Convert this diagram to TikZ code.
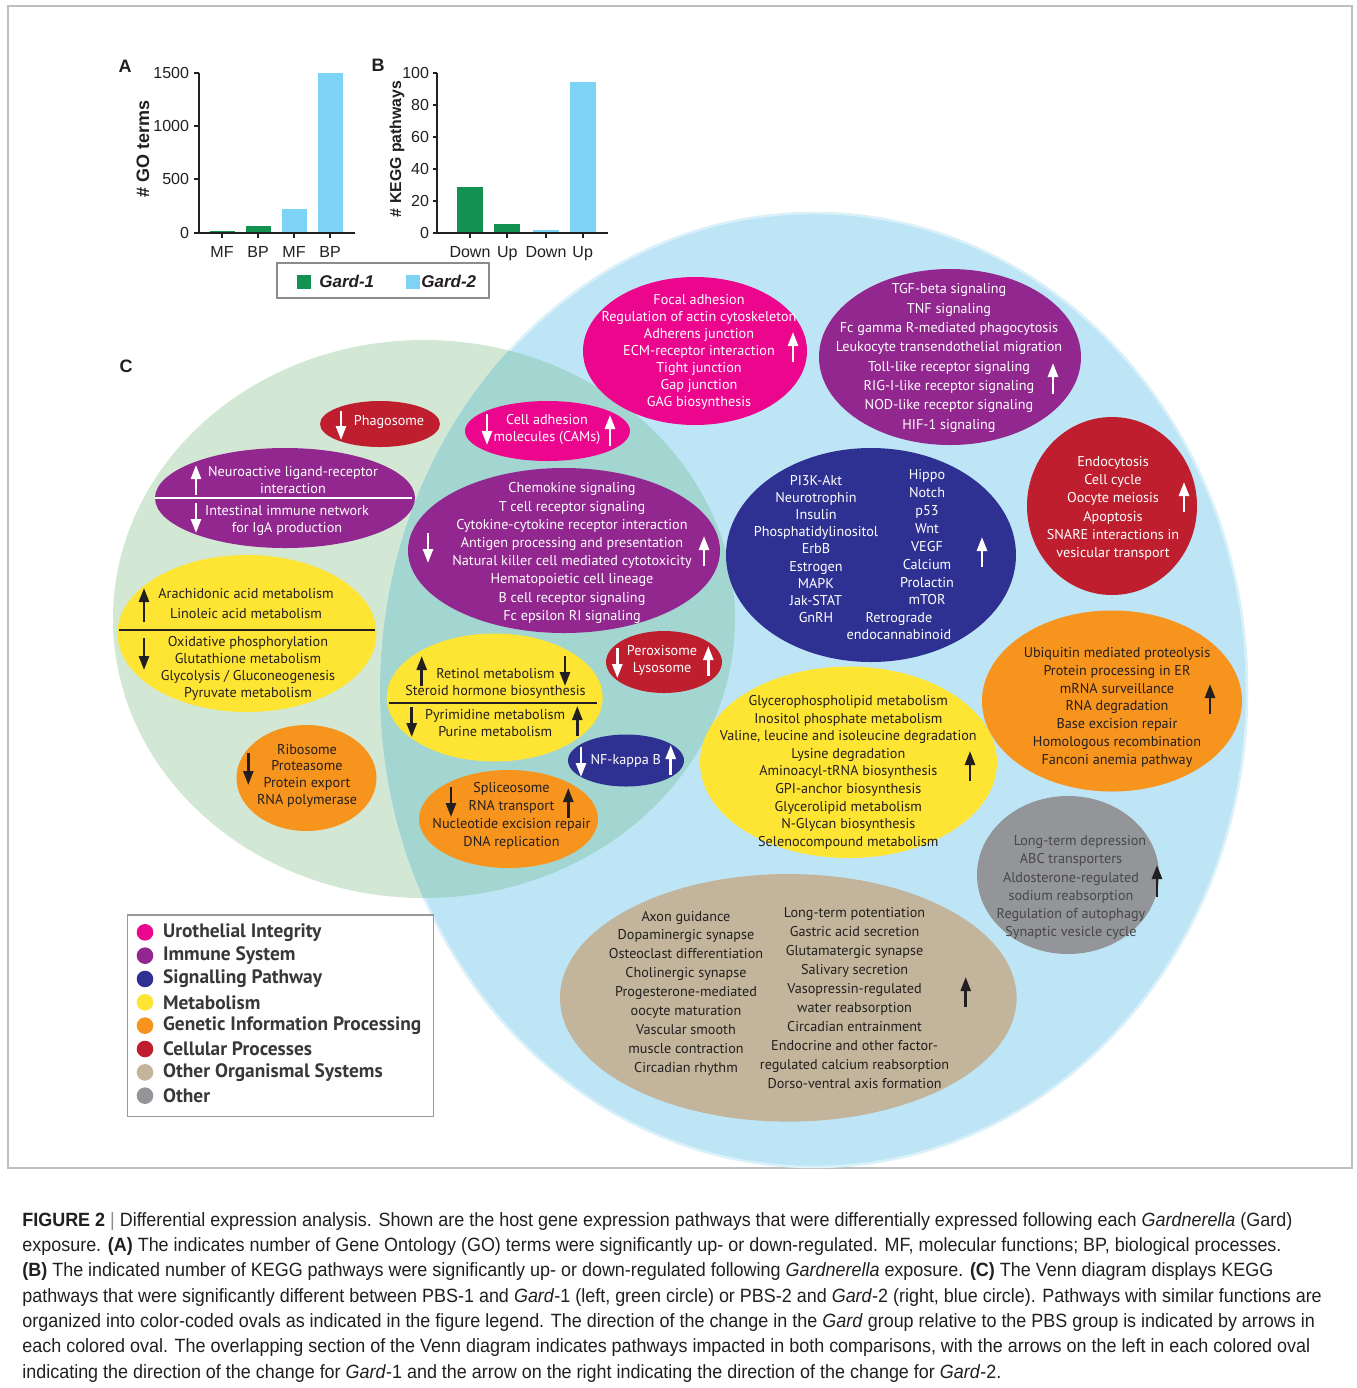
\documentclass[tikz,border=0pt]{standalone}
\usepackage{fontspec}
\usetikzlibrary{arrows.meta}
\newfontfamily\ovfont{PT Sans}
\newfontfamily\chfont{Liberation Sans}
\newfontfamily\capfont[FakeStretch=0.935]{Liberation Sans}
\definecolor{gone}{HTML}{139150}
\definecolor{gtwo}{HTML}{7CD3F5}
\definecolor{grn}{HTML}{D2E7D4}
\definecolor{blu}{HTML}{BEE5F6}
\definecolor{ovl}{HTML}{A3D6D1}
\definecolor{pnk}{HTML}{EC068D}
\definecolor{prp}{HTML}{92278F}
\definecolor{nvy}{HTML}{2E3192}
\definecolor{ylw}{HTML}{FFE533}
\definecolor{org}{HTML}{F7941D}
\definecolor{rdd}{HTML}{BE1E2D}
\definecolor{tan}{HTML}{C2B59B}
\definecolor{gry}{HTML}{939598}
\definecolor{ink}{HTML}{231F20}
\newcommand{\ovs}[1]{\ovfont\fontsize{7.1}{#1}\selectfont}
\tikzset{
  wtxt/.style={font=\ovs{8.5},align=center,inner sep=0pt,text=white},
  btxt/.style={font=\ovs{8.5},align=center,inner sep=0pt,text=ink},
  arw/.style={line width=1.3pt,-{Triangle[width=5pt,length=7pt]}},
  axl/.style={ink,line width=1pt},
  tkl/.style={font=\chfont\fontsize{8}{9}\selectfont,text=ink,inner sep=2pt,text height=1.5ex,text depth=0.25ex},
  ytl/.style={font=\chfont\bfseries\fontsize{9}{10}\selectfont,text=ink,rotate=90},
  panel/.style={font=\chfont\bfseries\fontsize{9}{10}\selectfont,text=ink},
  legab/.style={font=\chfont\bfseries\itshape\fontsize{8.5}{10}\selectfont,text=ink,anchor=west,inner sep=0pt},
  legtxt/.style={font=\ovfont\bfseries\fontsize{9.7}{11}\selectfont,text=black!78,anchor=west,inner sep=0pt},
  capt/.style={font=\capfont\fontsize{9.6}{12.65}\selectfont,align=left,inner sep=0pt,text=ink},
}

\begin{document}
\begin{tikzpicture}[x=0.5pt,y=-0.5pt]  % 1 unit = 1 px of the figure
  \useasboundingbox (0,0) rectangle (1356,1388);
  \fill[white] (0,0) rectangle (1356,1388);
  \draw[black!25,line width=0.6pt] (8,6) rectangle (1352,1168);

  % ---- (A) GO terms
  \node[panel] (pa) at (125,66) {A};
  \foreach \x/\v/\c/\t [count=\i] in {222/15/gone/MF,258/63/gone/BP,294/220/gtwo/MF,330/1495/gtwo/BP}{
    \fill[\c] (\x-12.5,232.7) rectangle (\x+12.5,{232.7-0.10667*\v});
    \draw[axl] (\x,232.7) -- ++(0,5);
    \node[tkl] (xa\i) at (\x,251.7) {\t};
  }
  \draw[axl] (199,72.7) -- (199,232.7) -- (355,232.7);
  \foreach \v in {0,500,1000,1500}
    \draw[axl] (199,{232.7-0.10667*\v}) -- ++(-5,0) node[tkl,left] (ya\v) {\v};
  \node[ytl] (yta) at (143,149) {\# GO terms};

  % ---- (B) KEGG pathways
  \node[panel] (pb) at (378,65) {B};
  \foreach \x/\v/\c/\t [count=\i] in {470/28.5/gone/Down,507.3/5.5/gone/Up,546/2/gtwo/Down,582.7/94/gtwo/Up}{
    \fill[\c] (\x-13,232.7) rectangle (\x+13,{232.7-1.6*\v});
    \draw[axl] (\x,232.7) -- ++(0,5);
    \node[tkl] (xb\i) at (\x,251.7) {\t};
  }
  \draw[axl] (437,72.7) -- (437,232.7) -- (608,232.7);
  \foreach \v in {0,20,...,100}
    \draw[axl] (437,{232.7-1.6*\v}) -- ++(-4,0) node[tkl,left,inner sep=1.5pt] (yb\v) {\v};
  \node[ytl,font=\chfont\bfseries\fontsize{7.9}{9}\selectfont] (ytb) at (397,149) {\# KEGG pathways};

  % ---- legend of the bars
  \draw[black!45,fill=white,line width=0.6pt] (277,263) rectangle (489,298);
  \fill[gone] (297,275) rectangle (311,289);
  \node[legab] (lg1) at (319,281) {Gard-1};
  \fill[gtwo] (406,275) rectangle (420,289);
  \node[legab] (lg2) at (421,281) {Gard-2};

  % ---- (C) Venn circles
  \node[panel] (pc) at (126,366) {C};
  \fill[grn] (424,619) ellipse [x radius=311, y radius=279];
  \fill[blu] (814,690) ellipse [x radius=434, y radius=478];
  \draw[blu!55!white,line width=1.2pt] (814,690) ellipse [x radius=433, y radius=477];
  \begin{scope}
    \clip (424,619) ellipse [x radius=311, y radius=279];
    \fill[ovl] (814,690) ellipse [x radius=434, y radius=478];
  \end{scope}

  % ---- urothelial integrity
  \fill[pnk] (695,351) ellipse [x radius=112, y radius=74];
  \node[wtxt] (focal) at (699,352) {Focal adhesion\\Regulation of actin cytoskeleton\\Adherens junction\\ECM-receptor interaction\\Tight junction\\Gap junction\\GAG biosynthesis};
  \draw[arw,white] (793,362) -- (793,332);
  \fill[pnk] (547.5,431) ellipse [x radius=82.5, y radius=30];
  \node[wtxt] (cams) at (547,429) {Cell adhesion\\molecules (CAMs)};
  \draw[arw,white] (487,414) -- (487,445);
  \draw[arw,white] (610,446) -- (610,415);

  % ---- immune system
  \fill[prp] (950,357) ellipse [x radius=131, y radius=88];
  \node[wtxt,font=\ovs{9.67}] (tgf) at (949,358) {TGF-beta signaling\\TNF signaling\\Fc gamma R-mediated phagocytosis\\Leukocyte transendothelial migration\\Toll-like receptor signaling\\RIG-I-like receptor signaling\\NOD-like receptor signaling\\HIF-1 signaling};
  \draw[arw,white] (1053,394) -- (1053,363);
  \fill[prp] (285,498) ellipse [x radius=130, y radius=50];
  \draw[white,line width=0.9pt] (155,498.3) -- (412,498.3);
  \node[wtxt] (neuro) at (293,480.5) {Neuroactive ligand-receptor\\interaction};
  \node[wtxt] (igan) at (287,520.5) {Intestinal immune network\\for IgA production};
  \draw[arw,white] (196,495) -- (196,465);
  \draw[arw,white] (196,503) -- (196,533);
  \fill[prp] (564,550.5) ellipse [x radius=156, y radius=82.5];
  \node[wtxt,font=\ovs{9.1}] (chemo) at (572,553) {Chemokine signaling\\T cell receptor signaling\\Cytokine-cytokine receptor interaction\\Antigen processing and presentation\\Natural killer cell mediated cytotoxicity\\Hematopoietic cell lineage\\B cell receptor signaling\\Fc epsilon RI signaling};
  \draw[arw,white] (428,533) -- (428,563);
  \draw[arw,white] (704,566) -- (704,536);

  % ---- signalling pathways
  \fill[nvy] (871,555) ellipse [x radius=145, y radius=107];
  \node[wtxt,font=\ovs{8.6}] (sigl) at (816,549) {PI3K-Akt\\Neurotrophin\\Insulin\\Phosphatidylinositol\\ErbB\\Estrogen\\MAPK\\Jak-STAT\\GnRH};
  \node[wtxt,font=\ovs{8.93}] (sigr) at (927,537.5) {Hippo\\Notch\\p53\\Wnt\\VEGF\\Calcium\\Prolactin\\mTOR};
  \node[wtxt,font=\ovs{8.4}] (retro) at (899,625.7) {Retrograde\\endocannabinoid};
  \draw[arw,white] (982,567) -- (982,537);
  \fill[nvy] (626,760.5) ellipse [x radius=58, y radius=26];
  \node[wtxt] (nfkb) at (625.7,761) {NF-kappa B};
  \draw[arw,white] (581,747) -- (581,777);
  \draw[arw,white] (670.7,775) -- (670.7,745);

  % ---- cellular processes
  \fill[rdd] (380,424) ellipse [x radius=60, y radius=23];
  \node[wtxt] (phago) at (389,422) {Phagosome};
  \draw[arw,white] (341,411) -- (341,440);
  \fill[rdd] (1112,506) ellipse [x radius=85, y radius=89];
  \node[wtxt,font=\ovs{9.13}] (endo) at (1113,508.3) {Endocytosis\\Cell cycle\\Oocyte meiosis\\Apoptosis\\SNARE interactions in\\vesicular transport};
  \draw[arw,white] (1184,512) -- (1184,482);
  \fill[rdd] (664,662) ellipse [x radius=58, y radius=31];
  \node[wtxt] (perox) at (662,660.3) {Peroxisome\\Lysosome};
  \draw[arw,white] (617.3,648) -- (617.3,678);
  \draw[arw,white] (708.3,676) -- (708.3,646);

  % ---- metabolism
  \fill[ylw] (247,633.5) ellipse [x radius=129.5, y radius=78.5];
  \draw[ink,line width=0.9pt] (119,630) -- (375,630);
  \node[btxt,font=\ovs{10.3}] (arach) at (246,603.7) {Arachidonic acid metabolism\\Linoleic acid metabolism};
  \node[btxt,font=\ovs{8.55}] (oxph) at (248,668.3) {Oxidative phosphorylation\\Glutathione metabolism\\Glycolysis / Gluconeogenesis\\Pyruvate metabolism};
  \draw[arw,ink] (144,622) -- (144,588);
  \draw[arw,ink] (144,638) -- (144,670);
  \fill[ylw] (494.7,697.5) ellipse [x radius=108, y radius=64];
  \draw[ink,line width=0.9pt] (389,703.3) -- (597,703.3);
  \node[btxt] (retin) at (495.5,683.8) {Retinol metabolism\\Steroid hormone biosynthesis};
  \node[btxt] (pyrim) at (495.2,723.5) {Pyrimidine metabolism\\Purine metabolism};
  \draw[arw,ink] (421.7,686) -- (421.7,656);
  \draw[arw,ink] (565,656) -- (565,686);
  \draw[arw,ink] (411.7,707) -- (411.7,737);
  \draw[arw,ink] (577.3,736) -- (577.3,706);
  \fill[ylw] (848.5,762.3) ellipse [x radius=148.5, y radius=95.7];
  \node[btxt,font=\ovs{8.8}] (glyc) at (848.3,772.2) {Glycerophospholipid metabolism\\Inositol phosphate metabolism\\Valine, leucine and isoleucine degradation\\Lysine degradation\\Aminoacyl-tRNA biosynthesis\\GPI-anchor biosynthesis\\Glycerolipid metabolism\\N-Glycan biosynthesis\\Selenocompound metabolism};
  \draw[arw,ink] (970,781) -- (970,751);

  % ---- genetic information processing
  \fill[org] (306.5,778) ellipse [x radius=70, y radius=53];
  \node[btxt,font=\ovs{8.4}] (ribo) at (307,775.8) {Ribosome\\Proteasome\\Protein export\\RNA polymerase};
  \draw[arw,ink] (248.3,753) -- (248.3,785);
  \fill[org] (508.5,819) ellipse [x radius=89.5, y radius=49];
  \node[btxt,font=\ovs{9}] (splic) at (511.5,816.3) {Spliceosome\\RNA transport\\Nucleotide excision repair\\DNA replication};
  \draw[arw,ink] (451,787) -- (451,817);
  \draw[arw,ink] (568.3,818) -- (568.3,788);
  \fill[org] (1112,701) ellipse [x radius=130, y radius=90.5];
  \node[btxt,font=\ovs{8.9}] (ubiq) at (1117,707.3) {Ubiquitin mediated proteolysis\\Protein processing in ER\\mRNA surveillance\\RNA degradation\\Base excision repair\\Homologous recombination\\Fanconi anemia pathway};
  \draw[arw,ink] (1210,714) -- (1210,684);

  % ---- other
  \fill[gry] (1068,875) ellipse [x radius=91, y radius=79];
  \node[btxt,font=\ovs{9.04},text=black!72] (ltd) at (1071,887.5) {\hspace*{9pt}Long-term depression\\ABC transporters\\Aldosterone-regulated\\sodium reabsorption\\Regulation of autophagy\\Synaptic vesicle cycle};
  \draw[arw,ink] (1157,897) -- (1157,865);

  % ---- other organismal systems
  \fill[tan] (788.3,997.8) ellipse [x radius=228.3, y radius=123.8];
  \node[btxt,font=\ovs{9.45}] (axon) at (686,993) {Axon guidance\\Dopaminergic synapse\\Osteoclast differentiation\\Cholinergic synapse\\Progesterone-mediated\\oocyte maturation\\Vascular smooth\\muscle contraction\\Circadian rhythm};
  \node[btxt,font=\ovs{9.5}] (ltp) at (854.6,997.8) {Long-term potentiation\\Gastric acid secretion\\Glutamatergic synapse\\Salivary secretion\\Vasopressin-regulated\\water reabsorption\\Circadian entrainment\\Endocrine and other factor-\\regulated calcium reabsorption\\Dorso-ventral axis formation};
  \draw[arw,ink] (965.7,1007) -- (965.7,977);

  % ---- legend of the ovals
  \draw[black!40,fill=white,line width=0.6pt] (127.3,915) rectangle (433.3,1116.7);
  \foreach \c/\t [count=\i] in {pnk/Urothelial Integrity,prp/Immune System,nvy/Signalling Pathway,ylw/Metabolism,org/Genetic Information Processing,rdd/Cellular Processes,tan/Other Organismal Systems,gry/Other}{
    \fill[\c] (145,{932.3+23.34*(\i-1)}) circle (8.3);
    \node[legtxt] (lc\i) at (162.7,{932.3+23.34*(\i-1)}) {\t};
  }

  % ---- caption
  \node[capt,anchor=north west] (cap) at (22,1212) {\textbf{FIGURE 2} \textcolor{black!45}{|} Differential expression analysis. Shown are the host gene expression pathways that were differentially expressed following each \textit{Gardnerella} (Gard)\\
  exposure. \textbf{(A)} The indicates number of Gene Ontology (GO) terms were significantly up- or down-regulated. MF, molecular functions; BP, biological processes.\\
  \textbf{(B)} The indicated number of KEGG pathways were significantly up- or down-regulated following \textit{Gardnerella} exposure. \textbf{(C)} The Venn diagram displays KEGG\\
  pathways that were significantly different between PBS-1 and \textit{Gard}-1 (left, green circle) or PBS-2 and \textit{Gard}-2 (right, blue circle). Pathways with similar functions are\\
  organized into color-coded ovals as indicated in the figure legend. The direction of the change in the \textit{Gard} group relative to the PBS group is indicated by arrows in\\
  each colored oval. The overlapping section of the Venn diagram indicates pathways impacted in both comparisons, with the arrows on the left in each colored oval\\
  indicating the direction of the change for \textit{Gard}-1 and the arrow on the right indicating the direction of the change for \textit{Gard}-2.};
\end{tikzpicture}
\end{document}
